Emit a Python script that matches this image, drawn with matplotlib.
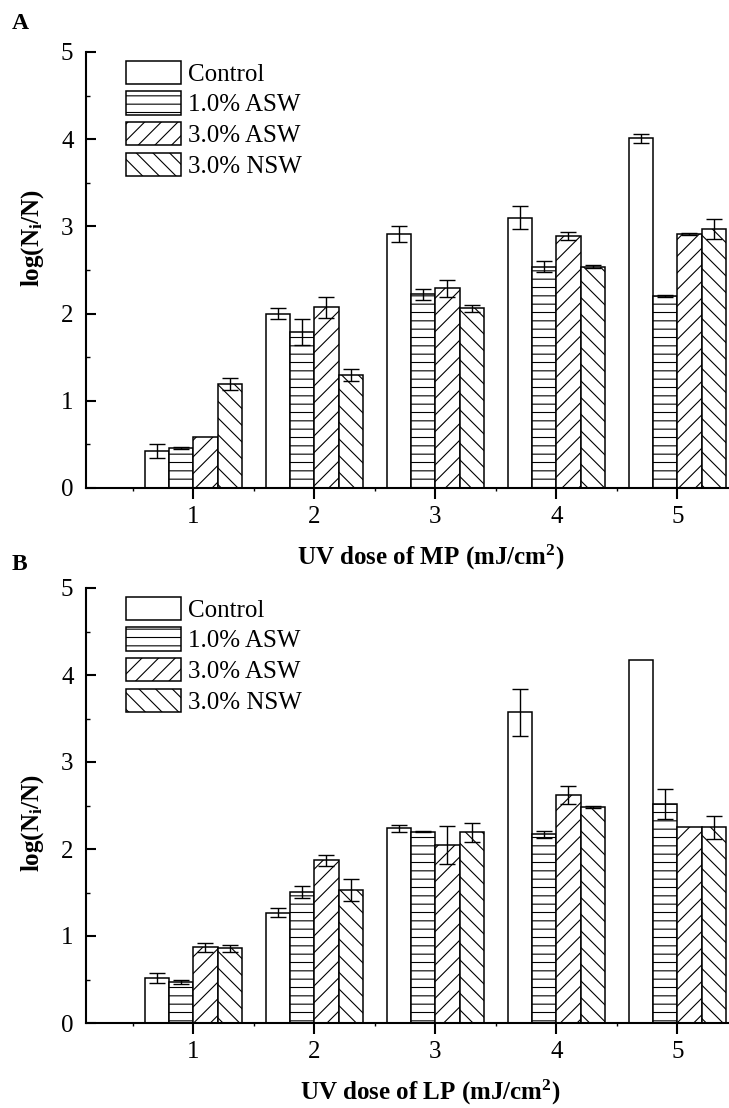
import numpy as np
import matplotlib
matplotlib.use("Agg")
import matplotlib.pyplot as plt
from matplotlib.patches import Patch
from matplotlib.ticker import MultipleLocator

plt.rcParams['font.family'] = ['Liberation Serif', 'DejaVu Serif']
plt.rcParams['mathtext.fontset'] = 'custom'
plt.rcParams['mathtext.rm'] = 'Liberation Serif'
plt.rcParams['mathtext.bf'] = 'Liberation Serif:bold'
plt.rcParams['mathtext.it'] = 'Liberation Serif:italic'
plt.rcParams['hatch.color'] = 'black'
plt.rcParams['hatch.linewidth'] = 0.8

doses = [1, 2, 3, 4, 5]
series = ['Control', '1.0% ASW', '3.0% ASW', '3.0% NSW']
hatches = ['', '--', '//', '\\\\']
nan = np.nan

# Panel A: MP
mp_control = [0.42, 2.00, 2.91, 3.10, 4.01]
mp_asw1 = [0.46, 1.79, 2.22, 2.54, 2.20]
mp_asw3 = [0.59, 2.07, 2.29, 2.89, 2.91]
mp_nsw = [1.19, 1.30, 2.06, 2.54, 2.97]
mp_control_err = [0.08, 0.06, 0.09, 0.13, 0.05]
mp_asw1_err = [0.01, 0.15, 0.06, 0.06, 0.01]
mp_asw3_err = [nan, 0.12, 0.10, 0.05, 0.01]
mp_nsw_err = [0.07, 0.07, 0.04, 0.02, 0.11]

# Panel B: LP
lp_control = [0.52, 1.27, 2.24, 3.57, 4.17]
lp_asw1 = [0.47, 1.51, 2.20, 2.17, 2.52]
lp_asw3 = [0.87, 1.87, 2.05, 2.62, 2.25]
lp_nsw = [0.86, 1.53, 2.19, 2.48, 2.25]
lp_control_err = [0.06, 0.05, 0.04, 0.27, nan]
lp_asw1_err = [0.02, 0.07, 0.01, 0.04, 0.17]
lp_asw3_err = [0.05, 0.06, 0.22, 0.10, nan]
lp_nsw_err = [0.04, 0.13, 0.11, 0.01, 0.13]

W, H = 729, 1108
fig = plt.figure(figsize=(W / 100, H / 100), dpi=100)

def px_axes(left, top, right, bottom):
    return fig.add_axes([left / W, 1 - bottom / H, (right - left) / W, (bottom - top) / H])

ax_a = px_axes(86, 52, 729, 488)
ax_b = px_axes(86, 588, 729, 1023)

def draw(ax, vals, errs, xlabel, ylabel_y):
    x = np.array(doses, dtype=float)
    width = 0.2
    offsets = [-1.5, -0.5, 0.5, 1.5]
    for v, e, h, off, lab in zip(vals, errs, hatches, offsets, series):
        ax.bar(x + off * width, v, width, facecolor='white', edgecolor='black',
               linewidth=1.1, hatch=h, label=lab, zorder=2)
        ax.errorbar(x + off * width, v, yerr=e, fmt='none', ecolor='black',
                    elinewidth=1.0, capsize=5.5, capthick=1.0, zorder=3)
    ax.set_xlim(0.113, 5.427)
    ax.set_ylim(0, 5)
    ax.set_xticks(doses)
    ax.set_yticks([0, 1, 2, 3, 4, 5])
    ax.xaxis.set_minor_locator(MultipleLocator(0.5))
    ax.yaxis.set_minor_locator(MultipleLocator(0.5))
    for s in ['top', 'right']:
        ax.spines[s].set_visible(False)
    for s in ['left', 'bottom']:
        ax.spines[s].set_linewidth(1.5)
        ax.spines[s].set_zorder(4)
    ax.tick_params(axis='x', which='major', direction='out', length=8, width=1.5,
                   labelsize=18, pad=5)
    ax.tick_params(axis='x', which='minor', direction='out', length=2, width=1.0)
    ax.tick_params(axis='y', which='major', direction='in', length=7, width=1.5,
                   labelsize=18, pad=9)
    ax.tick_params(axis='y', which='minor', direction='in', length=3, width=1.0)
    ax.set_ylabel(r'$\mathbf{log(N_{i}/N)}$', fontsize=18)
    ax.yaxis.set_label_coords(-0.062, ylabel_y)
    ax.set_xlabel(xlabel, fontsize=18, fontweight='bold')
    ax.xaxis.set_label_coords(0.536, -0.125)
    handles = [Patch(facecolor='white', edgecolor='black', linewidth=1.1, hatch=h, label=l)
               for h, l in zip(hatches, series)]
    ax.legend(handles=handles, loc='upper left', bbox_to_anchor=(0.062, 0.98),
              frameon=False, fontsize=18, handlelength=2.2, handleheight=1.05,
              labelspacing=0.22, handletextpad=0.28, borderpad=0, borderaxespad=0)

draw(ax_a, [mp_control, mp_asw1, mp_asw3, mp_nsw],
     [mp_control_err, mp_asw1_err, mp_asw3_err, mp_nsw_err],
     r'UV dose of MP (mJ/cm$^{\mathbf{2}}$)', 0.573)
draw(ax_b, [lp_control, lp_asw1, lp_asw3, lp_nsw],
     [lp_control_err, lp_asw1_err, lp_asw3_err, lp_nsw_err],
     r'UV dose of LP (mJ/cm$^{\mathbf{2}}$)', 0.46)

fig.text(12 / W, 1 - 13 / H, 'A', fontsize=17, fontweight='bold', va='top', ha='left')
fig.text(12 / W, 1 - 554 / H, 'B', fontsize=17, fontweight='bold', va='top', ha='left')

fig.savefig('out.png', dpi=100)
